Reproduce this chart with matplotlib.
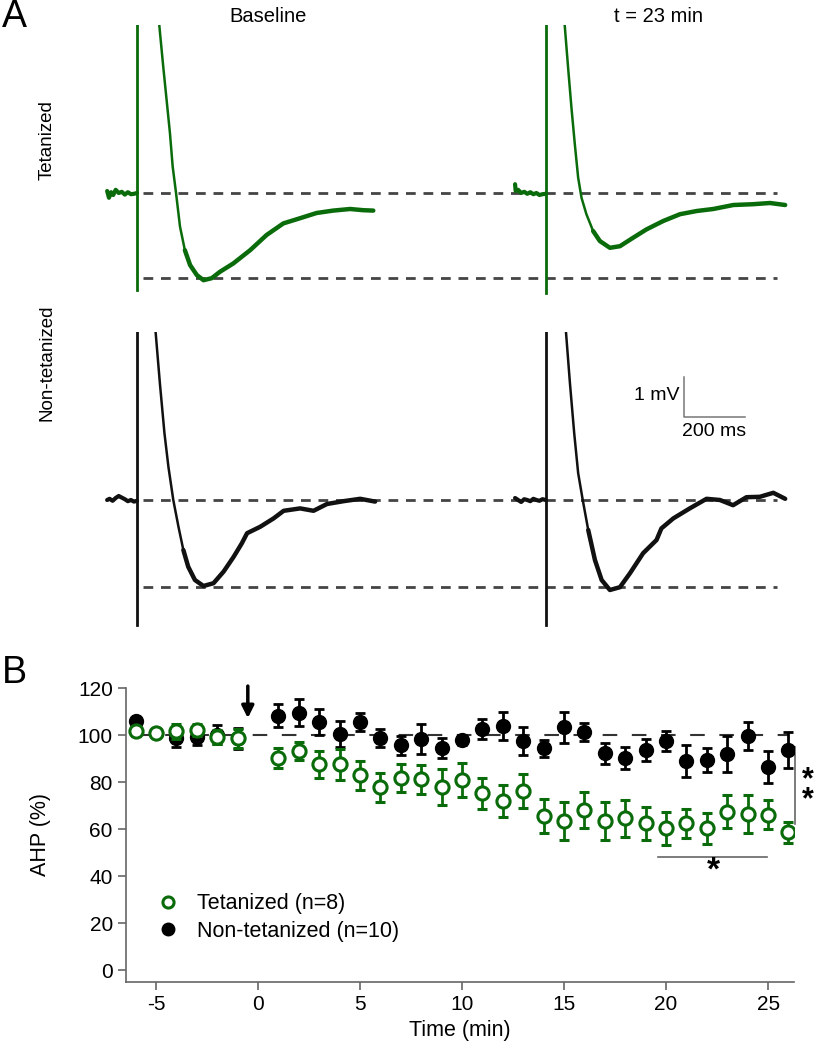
import numpy as np
import matplotlib
matplotlib.use("Agg")
import matplotlib.pyplot as plt
from matplotlib.lines import Line2D

plt.rcParams['font.family'] = ['Liberation Sans', 'DejaVu Sans']
plt.rcParams['axes.unicode_minus'] = False

GREEN = '#0a6b0a'
W, H = 817, 1050

# ---------------- panel A : example traces (ms from stimulus, mV from baseline) ----------------
# tetanized, baseline
tet_base_pre_t = [-98, -92, -85, -78, -70, -60, -50, -40, -30, -20, -10, 0]
tet_base_pre_v = [0.05, -0.12, 0.02, -0.05, 0.08, 0.0, 0.03, -0.04, 0.02, -0.03, -0.02, 0.0]
tet_base_t = [73, 86, 97, 108, 117, 128, 141, 157, 174, 196, 218, 245, 272, 316, 371, 425,
              480, 535, 589, 643, 699, 742, 775]
tet_base_v = [4.2, 3.16, 2.33, 1.5, 0.66, 0.0, -0.84, -1.43, -1.8, -2.05, -2.18, -2.13, -1.97,
              -1.76, -1.43, -1.05, -0.76, -0.63, -0.5, -0.44, -0.4, -0.43, -0.44]
tet_base_art = -2.43

# tetanized, t = 23 min
tet_23_pre_t = [-100, -98, -90, -80, -70, -60, -50, -40, -30, -20, -10, 0]
tet_23_pre_v = [0.22, 0.05, 0.08, 0.0, 0.03, -0.02, 0.02, -0.03, 0.0, -0.05, -0.03, -0.02]
tet_23_t = [63, 74, 85, 96, 107, 118, 134, 156, 178, 211, 244, 287, 331, 386, 441, 496,
            550, 616, 681, 736, 786]
tet_23_v = [4.18, 3.13, 2.13, 1.22, 0.38, -0.12, -0.53, -0.95, -1.2, -1.37, -1.33, -1.12,
            -0.91, -0.7, -0.53, -0.45, -0.4, -0.3, -0.28, -0.25, -0.3]
tet_23_art = -2.5

# non-tetanized, baseline
non_base_pre_t = [-98, -90, -80, -70, -60, -50, -40, -30, -20, -10, 0]
non_base_pre_v = [0.0, 0.03, -0.02, 0.05, 0.1, 0.06, 0.02, -0.03, 0.0, -0.04, -0.02]
non_base_t = [61, 75, 90, 103, 119, 136, 152, 168, 190, 218, 251, 284, 317, 344, 361, 404,
              448, 481, 535, 579, 623, 677, 732, 781]
non_base_v = [4.2, 2.92, 1.67, 0.83, 0.0, -0.67, -1.25, -1.67, -2.0, -2.15, -2.08, -1.79,
              -1.42, -1.08, -0.83, -0.67, -0.46, -0.27, -0.21, -0.27, -0.1, -0.03, 0.03, -0.04]
non_base_art = -3.13

# non-tetanized, t = 23 min
non_23_pre_t = [-100, -90, -80, -70, -60, -50, -40, -30, -20, -10, 0]
non_23_pre_v = [0.05, 0.0, -0.05, 0.02, 0.0, -0.03, 0.03, 0.0, -0.02, 0.02, 0.0]
non_23_t = [67, 80, 94, 107, 122, 140, 162, 184, 211, 244, 277, 320, 364, 380, 419, 473,
            528, 572, 615, 659, 703, 747, 786]
non_23_v = [4.2, 2.92, 1.67, 0.67, 0.0, -0.75, -1.5, -2.0, -2.25, -2.18, -1.83, -1.33, -1.0,
            -0.71, -0.46, -0.21, 0.03, 0.0, -0.13, 0.07, 0.08, 0.18, 0.03]
non_23_art = -3.13

tet_peak = -2.13   # lower dashed line, baseline AHP peak
non_peak = -2.18

# ---------------- panel B : AHP time course ----------------
time = [-6, -5, -4, -3, -2, -1] + list(range(1, 27))
tet_mean = [101.7, 101, 101.5, 102, 99.3, 98.6,
            90.3, 93.2, 87.5, 87.5, 82.8, 77.7, 81.6, 81.1, 77.9, 80.9, 75.2, 71.9, 76.3,
            65.5, 63.4, 68.1, 63.4, 64.5, 62.4, 60.3, 62.4, 60.3, 67.4, 66.4, 66, 58.6]
tet_err = [2, 1.5, 3, 2.5, 3, 4,
           4.2, 3.7, 5.8, 6.7, 6.2, 6, 6, 6.3, 7.8, 7.2, 6.5, 6.9, 7.2,
           7.2, 8.2, 7.7, 8, 7.7, 7.1, 7.1, 6.2, 6.7, 7, 8, 6.2, 4.5]
non_mean = [106.1, 101, 98.6, 99.3, 100.1, 98.6,
            108.2, 109.5, 105.4, 100.4, 105.4, 98.6, 95.7, 98.3, 94.6, 97.9, 102.6, 104, 97.4,
            94.3, 103.3, 101.4, 92.2, 90.3, 93.6, 97.4, 88.9, 89.4, 91.8, 99.6, 86.5, 93.6]
non_err = [1, 1.5, 3.5, 3.5, 4, 4.5,
           5, 5.8, 5.6, 5.7, 3.9, 3.9, 4, 6.4, 4.3, 2, 4.3, 6, 6,
           3.5, 6.6, 3.8, 4.4, 4.6, 4.7, 4.3, 6.7, 5.2, 7.6, 5.9, 6.9, 7.5]

fig = plt.figure(figsize=(W / 100, H / 100), dpi=100)

# time offset of the second column of traces (ms)
col2 = 1340
dash_kw = dict(color='#444444', lw=2.0, ls=(0, (3.5, 2.8)), zorder=1)

axT = fig.add_axes([100 / W, 1 - 300 / H, 700 / W, 275 / H])
axN = fig.add_axes([100 / W, 1 - 630 / H, 700 / W, 298 / H])
axT.set_xlim(-121.4, 2174.6)
axT.set_ylim(-2.675, 4.2)
axN.set_xlim(-121.4, 2174.6)
axN.set_ylim(-3.25, 4.2)

rows = [
    (axT, GREEN, [(0, tet_base_pre_t, tet_base_pre_v, tet_base_t, tet_base_v, tet_base_art),
                  (col2, tet_23_pre_t, tet_23_pre_v, tet_23_t, tet_23_v, tet_23_art)], tet_peak),
    (axN, '#111111', [(0, non_base_pre_t, non_base_pre_v, non_base_t, non_base_v, non_base_art),
                      (col2, non_23_pre_t, non_23_pre_v, non_23_t, non_23_v, non_23_art)], non_peak),
]
for ax, c, traces, peak in rows:
    ax.axis('off')
    ax.plot([20, 2099], [0, 0], **dash_kw)
    ax.plot([20, 2099], [peak, peak], **dash_kw)
    for off, pt, pv, t, v, art in traces:
        ax.plot(np.array(pt) + off, pv, color=c, lw=3.0, solid_capstyle='round', zorder=2)
        ax.plot([off, off], [art, 5], color=c, lw=2.0, zorder=3)
        t = np.array(t)
        v = np.array(v)
        thin = t <= 160
        ax.plot(t[thin] + off, v[thin], color=c, lw=1.8, zorder=2)
        k = thin.sum() - 1
        ax.plot(t[k:] + off, v[k:], color=c, lw=3.2, solid_capstyle='round',
                solid_joinstyle='round', zorder=2)

# scale bar
axN.plot([1794, 1794, 1994], [3.075, 2.075, 2.075], color='#777777', lw=1.1)
axN.text(1780, 2.6, '1 mV', ha='right', va='center', fontsize=14)
axN.text(1894, 1.72, '200 ms', ha='center', va='center', fontsize=14)

fig.text(14 / W, 1 - 17 / H, 'A', fontsize=27, ha='center', va='center')
fig.text(268 / W, 1 - 17 / H, 'Baseline', fontsize=14.5, ha='center', va='center')
fig.text(658 / W, 1 - 17 / H, 't = 23 min', fontsize=14.5, ha='center', va='center')
fig.text(47 / W, 1 - 140 / H, 'Tetanized', fontsize=13.5, rotation=90, ha='center', va='center')
fig.text(47 / W, 1 - 363 / H, 'Non-tetanized', fontsize=13.5, rotation=90, ha='center', va='center')
fig.text(14 / W, 1 - 673 / H, 'B', fontsize=27, ha='center', va='center')

# ---------------- panel B ----------------
axB = fig.add_axes([126 / W, 1 - 982 / H, 668 / W, 294 / H])
axB.set_xlim(-6.47, 26.27)
axB.set_ylim(-5.1, 120)

axB.plot([-6, 26], [100, 100], color='#333333', lw=1.5, ls=(0, (7, 7)), zorder=1)
axB.errorbar(time, non_mean, yerr=non_err, fmt='o', color='black', ms=10, capsize=3.5,
             elinewidth=2, capthick=2, zorder=3)
axB.errorbar(time, tet_mean, yerr=tet_err, fmt='o', color=GREEN, mfc='white', mec=GREEN,
             mew=2.2, ms=9.5, capsize=3.5, elinewidth=2, capthick=2, zorder=4)

# tetanus arrow
axB.annotate('', xy=(-0.5, 106), xytext=(-0.5, 122), annotation_clip=False,
             arrowprops=dict(arrowstyle='-|>', color='black', lw=2.5, mutation_scale=18))

# significance marks
axB.plot([19.6, 24.95], [48, 48], color='#666666', lw=1.2)
axB.text(22.3, 42.2, '*', fontsize=24, ha='center', va='center', weight='bold')
axB.plot([26.3, 26.3], [62, 95], color='#666666', lw=1.2, clip_on=False)
axB.text(26.96, 76.5, '*\n*', fontsize=22, ha='center', va='center', weight='bold',
         linespacing=0.55, clip_on=False)

for s in ['top', 'right']:
    axB.spines[s].set_visible(False)
for s in ['left', 'bottom']:
    axB.spines[s].set_color('#666666')
    axB.spines[s].set_linewidth(1.2)
axB.set_xticks([-5, 0, 5, 10, 15, 20, 25])
axB.set_yticks([0, 20, 40, 60, 80, 100, 120])
axB.tick_params(direction='out', length=6, width=1.2, color='#666666', labelsize=15)
axB.set_xlabel('Time (min)', fontsize=15.5)
axB.set_ylabel('AHP (%)', fontsize=15.5)
axB.yaxis.set_label_coords(-0.112, 0.5)

handles = [Line2D([], [], marker='o', ls='none', mfc='white', mec=GREEN, mew=2.2, ms=8),
           Line2D([], [], marker='o', ls='none', color='black', ms=9)]
axB.legend(handles, ['Tetanized (n=8)', 'Non-tetanized (n=10)'], loc='center left',
           bbox_to_anchor=(0.047, 0.219), frameon=False, fontsize=15.5, handlelength=1,
           handletextpad=0.85, labelspacing=0.3, borderpad=0, borderaxespad=0)

fig.savefig('out.png', dpi=100)
